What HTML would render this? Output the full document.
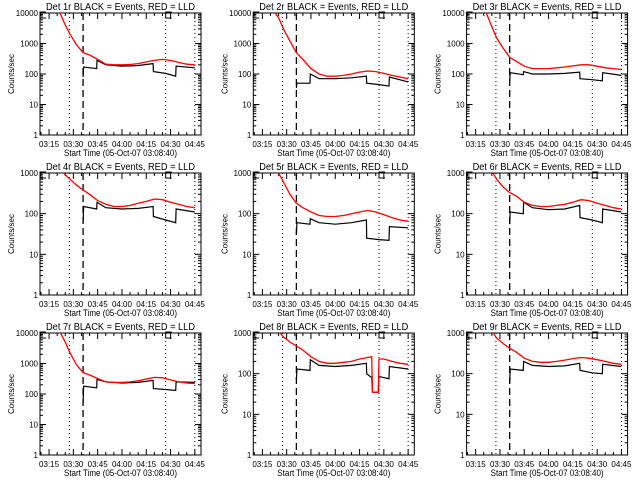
<!DOCTYPE html>
<html><head><meta charset="utf-8"><style>
html,body{margin:0;padding:0;background:#fff;}
svg{display:block;}
text{font-family:"Liberation Sans",sans-serif;fill:#000;}
</style></head><body>
<svg id="chart" width="640" height="480" viewBox="0 0 640 480"></svg>
<script>
// time in minutes after 03:00
const panelTitles = ["Det 1r BLACK = Events, RED = LLD","Det 2r BLACK = Events, RED = LLD","Det 3r BLACK = Events, RED = LLD","Det 4r BLACK = Events, RED = LLD","Det 5r BLACK = Events, RED = LLD","Det 6r BLACK = Events, RED = LLD","Det 7r BLACK = Events, RED = LLD","Det 8r BLACK = Events, RED = LLD","Det 9r BLACK = Events, RED = LLD"];
const yTopDecade = [4,4,4,3,3,3,4,3,3];
const xTickLabels = ["03:15","03:30","03:45","04:00","04:15","04:30","04:45"];
const xTickMinutes = [15,30,45,60,75,90,105];
const markerLines = [27.5,36,87,105];
const redTimes = [9.5,15,20,25,28,32,36,40,45,50,55,60,65,70,75,80,85,90,95,100,105];
const redVals = [
 [60000,30000,16000,4000,2000,900,500,420,300,210,200,200,205,220,250,280,300,280,240,210,200],
 [60000,30000,16000,7000,3000,1200,500,300,150,100,85,85,90,100,115,125,120,105,90,80,70],
 [60000,30000,16000,3500,1500,700,350,260,180,150,150,150,160,170,185,200,200,180,160,150,140],
 [6000,3000,1600,900,700,500,380,300,210,170,150,150,160,180,200,230,220,190,170,150,140],
 [6000,3000,1800,1000,600,300,180,140,110,90,85,85,90,100,110,120,110,95,80,70,65],
 [6000,3000,1800,1100,700,450,330,270,190,160,150,150,160,170,190,220,210,180,160,140,130],
 [60000,30000,16000,5000,2200,900,500,420,320,250,240,240,250,270,310,350,340,290,250,230,220],
 [6000,3000,1800,1100,800,600,480,380,260,200,180,180,190,200,230,250,35,230,200,180,170],
 [6000,3000,1800,1100,750,550,420,340,240,200,190,190,200,215,235,250,240,220,200,180,170]
];
const blackTimes = [36,36.3,44.4,44.6,50,60,70,79.2,79.4,87,93.2,93.4,105];
const blackVals = [
 [80,170,150,280,200,180,190,220,120,105,85,180,160],
 [35,50,50,100,70,70,75,85,50,45,40,80,55],
 [60,110,95,120,100,100,105,115,70,65,60,110,90],
 [60,150,130,190,140,130,135,150,85,70,60,130,110],
 [30,60,55,75,60,55,60,70,25,23,22,48,45],
 [55,110,100,190,140,125,130,160,80,70,60,130,110],
 [50,180,160,300,250,230,240,280,150,140,130,250,240],
 [70,130,120,220,160,150,160,180,100,80,75,150,130],
 [60,130,120,200,160,150,155,180,120,105,100,170,150]
];
const panel8Dip = {redT:[82.5,83,85.8,86.2,86.6,87], redV:[260,35,35,35,35,230], blkT:[82.5,83,86.5,87], blkV:[80,35,35,85]};

const NS="http://www.w3.org/2000/svg";
const svg=document.getElementById('chart');
function mk(tag,attrs,parent){const e=document.createElementNS(NS,tag);for(const k in attrs)e.setAttribute(k,attrs[k]);(parent||svg).appendChild(e);return e;}
const X0=40,X1=201,Y0=13,Y1=135,TMIN=9.4,TMAX=108.8;
for(let p=0;p<9;p++){
  const ox=(p%3)*213.3, oy=Math.floor(p/3)*160;
  const g=mk('g',{transform:`translate(${ox.toFixed(1)},${oy})`});
  
  
  const top=yTopDecade[p];
  const xs=t=>X0+(t-TMIN)/(TMAX-TMIN)*(X1-X0);
  const ys=v=>{let l=Math.log10(v);return Y1-(l/top)*(Y1-Y0);};
  const clip='clip'+p;
  const cp=mk('clipPath',{id:clip},g);mk('rect',{x:X0,y:Y0,width:X1-X0,height:Y1-Y0},cp);
  const tt=mk('text',{x:46,y:10,'font-size':'10',textLength:149,lengthAdjust:'spacingAndGlyphs'},g);tt.textContent=panelTitles[p];
  
  const box=mk('rect',{x:X0,y:Y0,width:X1-X0,height:Y1-Y0,fill:'none',stroke:'#000','stroke-width':1},g);
  
  for(let d=0;d<=top;d++){
    const y=ys(Math.pow(10,d));
    mk('line',{x1:X0,x2:X0+6,y1:y,y2:y,stroke:'#000'},g);mk('line',{x1:X1,x2:X1-6,y1:y,y2:y,stroke:'#000'},g);
    const lt=mk('text',{x:X0-2,y:y+3,'font-size':'8','text-anchor':'end'},g);lt.textContent=String(Math.pow(10,d));
    
    if(d<top)for(let m=2;m<10;m++){const ym=ys(m*Math.pow(10,d));mk('line',{x1:X0,x2:X0+3,y1:ym,y2:ym,stroke:'#000'},g);mk('line',{x1:X1,x2:X1-3,y1:ym,y2:ym,stroke:'#000'},g);}
  }
  for(let t=10;t<=108;t+=5){const x=xs(t);const len=(t%15===0)?6:3;mk('line',{x1:x,x2:x,y1:Y1,y2:Y1-len,stroke:'#000'},g);mk('line',{x1:x,x2:x,y1:Y0,y2:Y0+len,stroke:'#000'},g);}
  xTickMinutes.forEach((t,i)=>{const lt=mk('text',{x:xs(t),y:147,'font-size':'8','text-anchor':'middle'},g);lt.textContent=xTickLabels[i];
    });
  const xt=mk('text',{x:64,y:156,'font-size':'9',textLength:113,lengthAdjust:'spacingAndGlyphs'},g);xt.textContent="Start Time (05-Oct-07 03:08:40)";
  
  const yt=mk('text',{x:0,y:0,'font-size':'8','text-anchor':'middle',transform:`translate(14,${(Y0+Y1)/2}) rotate(-90)`},g);yt.textContent="Counts/sec";
  
  markerLines.forEach((t,i)=>{const x=xs(t);const l=mk('line',{x1:x,x2:x,y1:Y0,y2:Y1,stroke:'#000','stroke-width':i===1?1.3:1,'stroke-dasharray':i===1?'7,4':'1,3'},g);
    });
  const sm=mk('path',{d:`M${X0+6},${Y0-1} h-6 v6 h6`,fill:'none',stroke:'#000'},g);
  
  const em=mk('path',{d:`M${xs(87)+6},${Y0-1} h-6 v6 h6`,fill:'none',stroke:'#000'},g);
  
  let rt=redTimes.slice(), rv=redVals[p].slice(), bt=blackTimes.slice(), bv=blackVals[p].slice();
  if(p===7){
    let pts=rt.map((t,i)=>[t,rv[i]]).filter(a=>!(a[0]>82&&a[0]<87.5)).concat(panel8Dip.redT.map((t,i)=>[t,panel8Dip.redV[i]])).sort((a,b)=>a[0]-b[0]);
    rt=pts.map(a=>a[0]);rv=pts.map(a=>a[1]);
    let bp=bt.map((t,i)=>[t,bv[i]]).filter(a=>!(a[0]>82&&a[0]<87.5)).concat(panel8Dip.blkT.map((t,i)=>[t,panel8Dip.blkV[i]])).sort((a,b)=>a[0]-b[0]);
    bt=bp.map(a=>a[0]);bv=bp.map(a=>a[1]);
  }
  const bl=mk('polyline',{points:bt.map((t,i)=>xs(t).toFixed(1)+','+ys(bv[i]).toFixed(1)).join(' '),fill:'none',stroke:'#000','stroke-width':1.2,'clip-path':`url(#${clip})`},g);
  
  const rl=mk('polyline',{points:rt.map((t,i)=>xs(t).toFixed(1)+','+ys(rv[i]).toFixed(1)).join(' '),fill:'none',stroke:'#ff0000','stroke-width':1.3,'clip-path':`url(#${clip})`},g);
  
}
</script>
</body></html>
